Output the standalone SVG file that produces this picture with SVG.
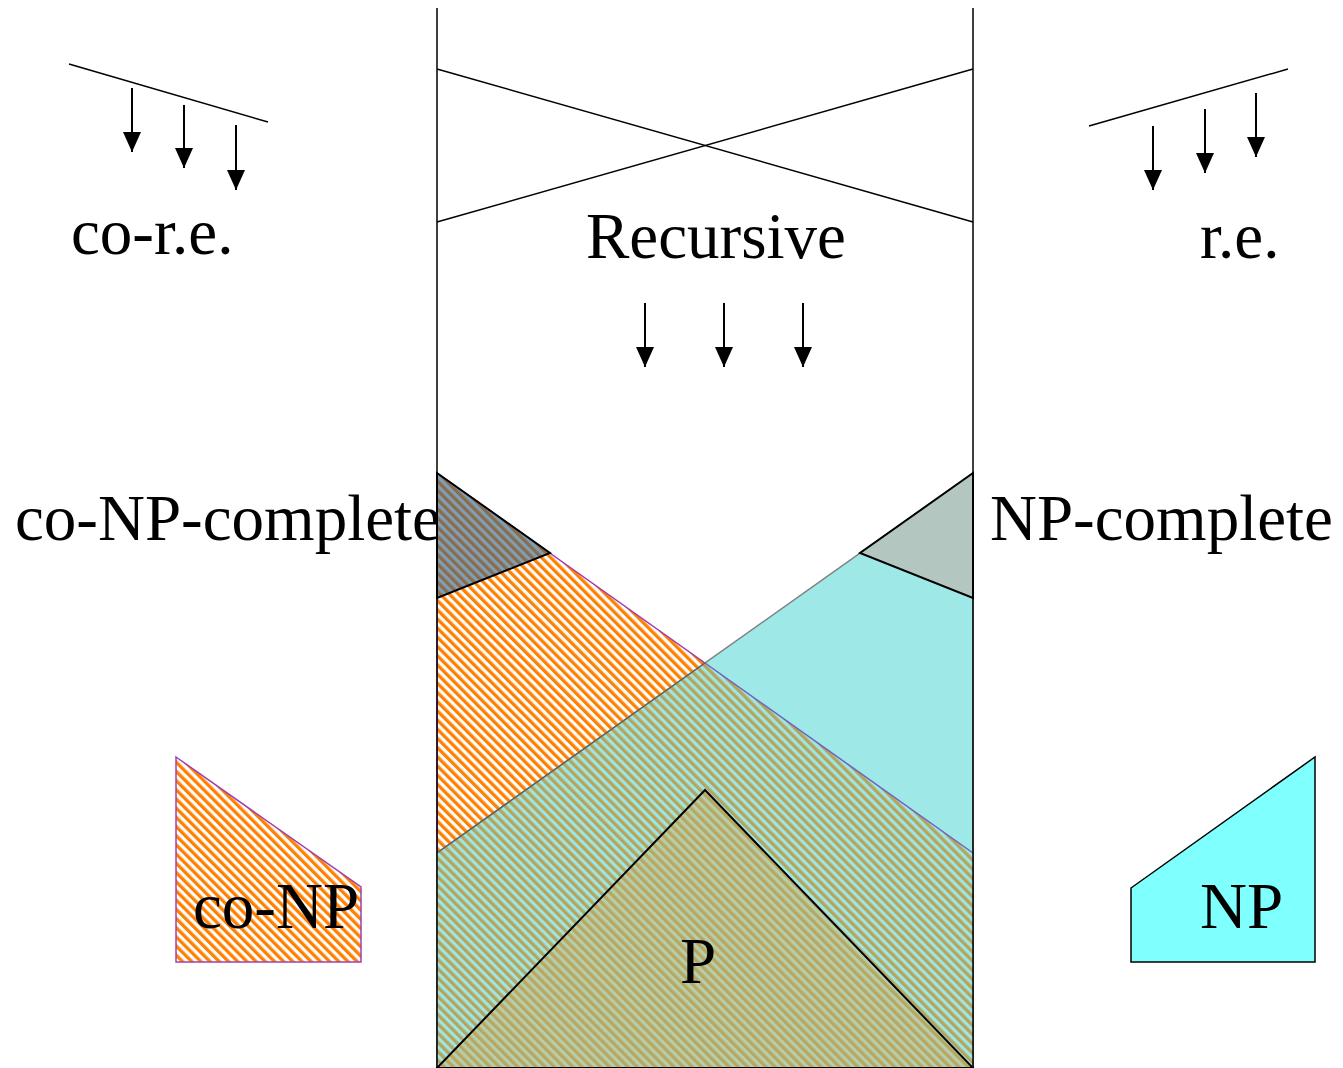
<svg xmlns="http://www.w3.org/2000/svg" width="1343" height="1068" viewBox="0 0 1343 1068">
<style>
.t{font-family:"Liberation Serif","Times New Roman",serif;font-size:65px;fill:#000}
.ln{stroke:#000;stroke-width:1.5;fill:none}
.ar{stroke:#000;stroke-width:2;fill:none;marker-end:url(#ah)}
</style>
<defs>
<marker id="ah" viewBox="0 0 20 18" refX="20" refY="9" markerWidth="20" markerHeight="18" markerUnits="userSpaceOnUse" orient="auto">
<path d="M0,0 L20,9 L0,18 z" fill="#000"/>
</marker>
<pattern id="orange" width="6.5" height="6.5" patternUnits="userSpaceOnUse" patternTransform="rotate(-45)">
<rect width="6.5" height="6.5" fill="#fff"/><rect width="3.3" height="6.5" fill="#ff8000"/>
</pattern>
<pattern id="dark" width="6.5" height="6.5" patternUnits="userSpaceOnUse" patternTransform="rotate(-45)">
<rect width="6.5" height="6.5" fill="#7f9fb6"/><rect width="3.3" height="6.5" fill="#8a6c4c"/>
</pattern>
<pattern id="over" width="6.5" height="6.5" patternUnits="userSpaceOnUse" patternTransform="rotate(-45)">
<rect width="6.5" height="6.5" fill="#9fe6e2"/><rect width="3.3" height="6.5" fill="#b5a45e"/>
</pattern>
<pattern id="pp" width="6.5" height="6.5" patternUnits="userSpaceOnUse" patternTransform="rotate(-45)">
<rect width="6.5" height="6.5" fill="#b3cfae"/><rect width="3.3" height="6.5" fill="#bba65e"/>
</pattern>
</defs>
<g id="labels-top">
<text class="t" x="71" y="254">co-r.e.</text>
<text class="t" x="586" y="258">Recursive</text>
<text class="t" x="1200" y="258">r.e.</text>
<text class="t" x="15" y="540">co-NP-complete</text>
<text class="t" x="990" y="540">NP-complete</text>
</g>
<g id="coNP-region">
<polygon points="437,473 973,853 973,1068 437,1068" fill="url(#orange)" stroke="#a040b0" stroke-width="1.5"/>
</g>
<g id="NP-region">
<polygon points="973,473 437,853 437,1068 973,1068" fill="#9ee8e8" stroke="#808080" stroke-width="1.5"/>
</g>
<g id="overlap">
<polygon points="705,663 973,853 973,1068 437,1068 437,853" fill="url(#over)"/>
<line x1="705" y1="663" x2="973" y2="853" stroke="#7060c0" stroke-width="1.5"/>
<line x1="437" y1="853" x2="705" y2="663" stroke="#606060" stroke-width="1.5"/>
</g>
<g id="P">
<polygon points="437,1068 705,790 973,1068" fill="url(#pp)" stroke="#000" stroke-width="2"/>
<text class="t" x="680" y="983">P</text>
</g>
<g id="coNP-complete">
<polygon points="437,473 550,553 437,598" fill="url(#dark)" stroke="#000" stroke-width="2"/>
</g>
<g id="NP-complete">
<polygon points="973,473 860,553 973,598" fill="#b3c6bf" stroke="#000" stroke-width="2"/>
</g>
<g id="frame">
<line class="ln" x1="437" y1="8" x2="437" y2="1068"/>
<line class="ln" x1="973" y1="8" x2="973" y2="1068"/>
<line class="ln" x1="437" y1="69" x2="973" y2="222"/>
<line class="ln" x1="437" y1="222" x2="973" y2="69"/>
</g>
<g id="coNP-legend">
<polygon points="176,757 361,887 361,962 176,962" fill="url(#orange)" stroke="#a040b0" stroke-width="1.5"/>
<text class="t" x="193" y="928">co-NP</text>
</g>
<g id="NP-legend">
<polygon points="1131,888 1315,757 1315,962 1131,962" fill="#80ffff" stroke="#000" stroke-width="1.5"/>
<text class="t" x="1200" y="928">NP</text>
</g>
<g id="connectors">
<line class="ln" x1="69" y1="64" x2="268" y2="122"/>
<line class="ar" x1="132" y1="88" x2="132" y2="152"/>
<line class="ar" x1="184" y1="105" x2="184" y2="168"/>
<line class="ar" x1="236" y1="125" x2="236" y2="190"/>
<line class="ln" x1="1089" y1="126" x2="1288" y2="69"/>
<line class="ar" x1="1153" y1="126" x2="1153" y2="190"/>
<line class="ar" x1="1205" y1="109" x2="1205" y2="173"/>
<line class="ar" x1="1256" y1="93" x2="1256" y2="157"/>
<line class="ar" x1="645" y1="303" x2="645" y2="367"/>
<line class="ar" x1="724" y1="303" x2="724" y2="367"/>
<line class="ar" x1="803" y1="303" x2="803" y2="367"/>
</g>
</svg>
